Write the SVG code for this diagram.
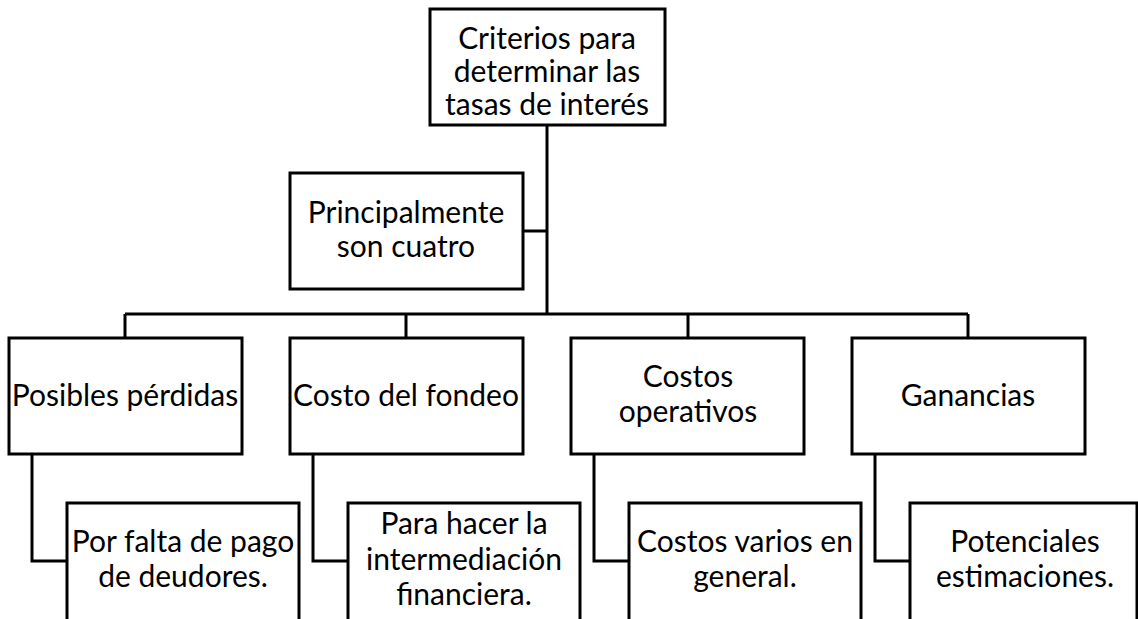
<svg xmlns="http://www.w3.org/2000/svg" width="1138" height="619" viewBox="0 0 1138 619">
<style>
.box{fill:#fff;stroke:#000;stroke-width:3}
.ln{fill:none;stroke:#000;stroke-width:3}
text{font-family:Lato,"Open Sans",sans-serif;font-size:30px;fill:#000;text-anchor:middle}
</style>
<rect width="1138" height="619" fill="#fff"/>
<g id="connectors">
<path class="ln" d="M547 125 V314"/>
<path class="ln" d="M523 231 H547"/>
<path class="ln" d="M125 314 H968"/>
<path class="ln" d="M125 314 V338 M406 314 V338 M688 314 V338 M968 314 V338"/>
<path class="ln" d="M32 454 V561 H67"/>
<path class="ln" d="M313 454 V561 H348"/>
<path class="ln" d="M594 454 V561 H629"/>
<path class="ln" d="M875 454 V561 H910"/>
</g>
<g id="root"><rect class="box" x="430" y="9" width="235" height="116"/>
<text x="547" y="49">Criterios para</text><text x="547" y="82">determinar las</text><text x="547" y="115">tasas de interés</text></g>
<g id="principal"><rect class="box" x="290" y="173" width="233" height="116"/>
<text x="406" y="223">Principalmente</text><text x="406" y="257">son cuatro</text></g>
<g id="perdidas"><rect class="box" x="9" y="338" width="233" height="116"/><text x="125" y="406">Posibles pérdidas</text></g>
<g id="fondeo"><rect class="box" x="290" y="338" width="233" height="116"/><text x="406" y="406">Costo del fondeo</text></g>
<g id="operativos"><rect class="box" x="571" y="338" width="233" height="116"/><text x="688" y="387">Costos</text><text x="688" y="422">operativos</text></g>
<g id="ganancias"><rect class="box" x="852" y="338" width="233" height="116"/><text x="968" y="406">Ganancias</text></g>
<g id="pago"><rect class="box" x="67" y="503" width="232" height="130"/><text x="183" y="552">Por falta de pago</text><text x="183" y="587">de deudores.</text></g>
<g id="intermediacion"><rect class="box" x="348" y="503" width="232" height="130"/><text x="464" y="534">Para hacer la</text><text x="464" y="570">intermediación</text><text x="464" y="605">financiera.</text></g>
<g id="varios"><rect class="box" x="629" y="503" width="232" height="130"/><text x="745" y="552">Costos varios en</text><text x="745" y="587">general.</text></g>
<g id="estimaciones"><rect class="box" x="910" y="503" width="227" height="130"/><text x="1025" y="552">Potenciales</text><text x="1025" y="587">estimaciones.</text></g>
</svg>
